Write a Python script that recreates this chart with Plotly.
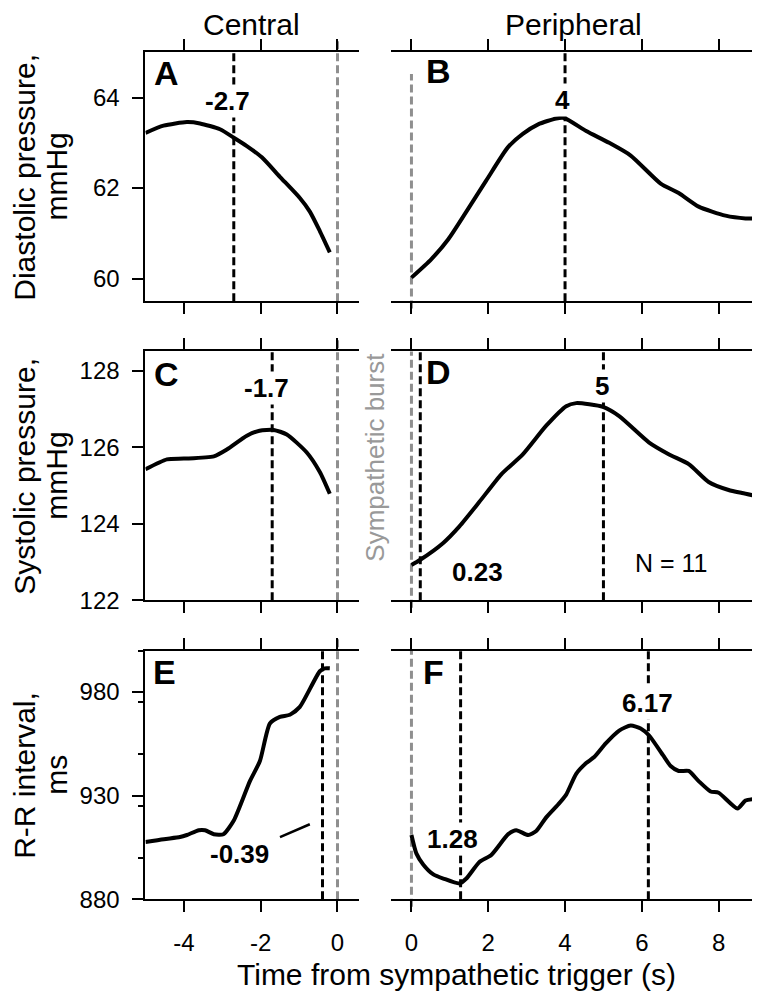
import plotly.graph_objects as go

W, H = 760, 1000
FONT = "Liberation Sans, Arial, sans-serif"

# ---------------- data ----------------
# Panel A: diastolic pressure, central (time s, mmHg)
a_t = [-5.0, -4.53, -3.92, -3.58, -3.06, -2.71, -2.36, -1.97, -1.50, -0.98, -0.72, -0.46, -0.20]
a_v = [63.22, 63.38, 63.46, 63.43, 63.30, 63.12, 62.93, 62.68, 62.25, 61.78, 61.48, 61.05, 60.58]

# Panel B: diastolic pressure, peripheral
b_t = [0.0, 0.52, 0.96, 1.43, 1.95, 2.51, 2.90, 3.30, 3.77, 3.98, 4.55, 5.15, 5.71, 6.49, 6.96, 7.48, 8.18, 8.70, 9.0]
b_v = [60.02, 60.43, 60.87, 61.48, 62.17, 62.90, 63.20, 63.41, 63.54, 63.55, 63.26, 63.00, 62.72, 62.10, 61.89, 61.59, 61.39, 61.33, 61.33]

# Panel C: systolic pressure, central
c_t = [-5.0, -4.44, -4.0, -3.22, -2.88, -2.36, -2.03, -1.66, -1.32, -0.80, -0.46, -0.20]
c_v = [125.42, 125.68, 125.70, 125.76, 125.94, 126.30, 126.43, 126.45, 126.33, 125.86, 125.35, 124.78]

# Panel D: systolic pressure, peripheral
d_t = [0.0, 0.22, 0.82, 1.25, 1.77, 2.34, 2.90, 3.51, 4.03, 4.29, 4.63, 4.99, 5.41, 6.19, 6.71, 7.23, 7.74, 8.26, 8.61, 9.0]
d_v = [122.92, 123.05, 123.49, 123.93, 124.57, 125.29, 125.81, 126.56, 127.07, 127.15, 127.12, 127.05, 126.81, 126.12, 125.81, 125.55, 125.09, 124.88, 124.80, 124.72]

# Panel E: R-R interval, central
e_t = [-5.0, -4.52, -4.10, -3.92, -3.61, -3.45, -3.22, -2.97, -2.70, -2.28, -2.02, -1.76, -1.50, -1.24, -0.98, -0.46, -0.33, -0.20]
e_v = [907.6, 909.0, 910.0, 911.0, 913.3, 913.3, 911.4, 911.4, 918.0, 937.0, 946.7, 964.8, 968.0, 969.0, 972.8, 990.0, 991.4, 991.4]

# Panel F: R-R interval, peripheral
f_t = [0.0, 0.13, 0.31, 0.57, 0.83, 1.25, 1.43, 1.77, 2.08, 2.52, 2.73, 3.04, 3.25, 3.51, 3.82, 4.03, 4.29, 4.55,
       4.76, 5.06, 5.41, 5.71, 5.97, 6.19, 6.55, 6.75, 6.96, 7.22, 7.48, 7.79, 8.00, 8.49, 8.70, 9.0]
f_v = [911.0, 902.0, 896.7, 892.0, 890.0, 887.6, 890.0, 898.0, 901.4, 911.4, 913.3, 911.0, 912.9, 919.5, 925.7, 930.5,
       940.5, 945.7, 948.6, 955.2, 961.4, 963.8, 962.4, 959.0, 949.5, 944.3, 941.9, 941.9, 937.0, 932.0, 931.4, 923.8,
       927.6, 928.6]

# Event times (dashed markers), per panel
burst_time = 0
peak_times = {"A": [-2.7], "B": [4], "C": [-1.7], "D": [0.23, 5], "E": [-0.39], "F": [1.28, 6.17]}

col_titles = ["Central", "Peripheral"]
row_titles = [["Diastolic pressure,", "mmHg"], ["Systolic pressure,", "mmHg"], ["R-R interval,", "ms"]]
x_title = "Time from sympathetic trigger (s)"
left_ticks = [-4, -2, 0]
left_ticktext = ["-4", "-2", "0"]
right_ticks = [0, 2, 4, 6, 8]
right_ticktext = ["0", "2", "4", "6", "8"]
row_yticks = [[60, 62, 64], [122, 124, 126, 128], [880, 930, 980]]
row_ranges = [[59.5, 65.0], [122.0, 128.5], [880, 1000]]

# ---------------- layout geometry ----------------
def px(x):
    return x / W

def py(y):
    return 1 - y / H

left_dom = [px(138), px(352)]
right_dom = [px(385), px(752)]
row_doms = [[py(297), py(45)], [py(600), py(348)], [py(903), py(651)]]
row_mid = [171, 474, 777]
left_range = [-5, 0.55]
right_range = [-0.52, 9.0]

series = [(a_t, a_v), (b_t, b_v), (c_t, c_v), (d_t, d_v), (e_t, e_v), (f_t, f_v)]
letters = ["A", "B", "C", "D", "E", "F"]

fig = go.Figure()
layout = dict(
    width=W, height=H, margin=dict(l=0, r=0, t=0, b=0),
    paper_bgcolor="white", plot_bgcolor="white", showlegend=False,
    font=dict(family=FONT, color="black"),
)
shapes = []
annotations = []

for i, (t, v) in enumerate(series):
    row, col = divmod(i, 2)
    k = i + 1
    xa = "xaxis" if k == 1 else f"xaxis{k}"
    ya = "yaxis" if k == 1 else f"yaxis{k}"
    xr = "x" if k == 1 else f"x{k}"
    yr = "y" if k == 1 else f"y{k}"
    fig.add_trace(go.Scatter(x=t, y=v, mode="lines", xaxis=xr, yaxis=yr,
                             line=dict(color="black", width=4, shape="spline", smoothing=0.6)))
    layout[xa] = dict(
        domain=left_dom if col == 0 else right_dom,
        range=left_range if col == 0 else right_range,
        anchor=yr, tickmode="array",
        tickvals=left_ticks if col == 0 else right_ticks,
        ticktext=left_ticktext if col == 0 else right_ticktext,
        showline=True, linecolor="black", linewidth=2, mirror="allticks",
        ticks="outside", ticklen=11, tickwidth=1.5, tickcolor="black",
        showgrid=False, zeroline=False, showticklabels=(row == 2),
        tickfont=dict(size=24, family=FONT), ticklabelstandoff=10,
    )
    yax = dict(
        domain=row_doms[row], range=row_ranges[row], anchor=xr,
        showline=True, linecolor="black", linewidth=2, mirror=False,
        ticks="outside", ticklen=11, tickwidth=1.5, tickcolor="black",
        showgrid=False, zeroline=False,
        tickfont=dict(size=24, family=FONT),
        side="left" if col == 0 else "right",
        showticklabels=(col == 0), ticklabelstandoff=8,
    )
    if row == 2:
        yax.update(tickmode="linear", tick0=880, dtick=50)
        if col == 0:
            yax["minor"] = dict(dtick=25, ticks="outside", ticklen=5, tickwidth=1.5, tickcolor="black")
    else:
        yax.update(tickmode="array", tickvals=row_yticks[row])
    layout[ya] = yax

    # gray burst line at time 0
    y1 = 1.045 if col == 0 else (0.913 if row == 0 else 1.0)
    y0 = 0 if col == 0 else -0.03
    shapes.append(dict(type="line", xref=xr, yref=f"{yr} domain", x0=burst_time, x1=burst_time,
                       y0=y0, y1=y1, line=dict(color="#8f8f8f", width=3, dash="8px,4px"), layer="below"))
    for pt in peak_times[letters[i]]:
        shapes.append(dict(type="line", xref=xr, yref=f"{yr} domain", x0=pt, x1=pt, y0=0, y1=1,
                           line=dict(color="black", width=3, dash="8px,4px"), layer="below"))

layout["shapes"] = shapes

def ann(text, x, y, size, bold=False, bg=None, color="black", angle=0, **kw):
    d = dict(text=f"<b>{text}</b>" if bold else text, x=px(x), y=py(y), xref="paper", yref="paper",
             xanchor="center", yanchor="middle", showarrow=False,
             font=dict(size=size, family=FONT, color=color), textangle=angle)
    if bg:
        d.update(bgcolor=bg, borderpad=1)
    d.update(kw)
    annotations.append(d)

# column titles
ann(col_titles[0], 244, 17, 30)
ann(col_titles[1], 568, 17, 30)
# row titles (two lines each)
for r in range(3):
    ann(row_titles[r][0], 17, row_mid[r], 30, angle=-90)
    ann(row_titles[r][1], 49, row_mid[r], 30, angle=-90)
# x title
ann(x_title, 450, 979, 30)
# panel letters
ann("A", 159, 66, 34, bold=True)
ann("B", 432, 64, 34, bold=True)
ann("C", 159, 371, 34, bold=True)
ann("D", 432, 369, 34, bold=True)
ann("E", 157, 673, 34, bold=True)
ann("F", 427, 673, 34, bold=True)
# peak values
ann("-2.7", 220, 94, 26, bold=True, bg="white")
ann("4", 557, 93, 26, bold=True, bg="white")
ann("-1.7", 260, 385, 26, bold=True, bg="white")
ann("5", 596, 383, 26, bold=True, bg="white")
ann("0.23", 471, 571, 26, bold=True)
ann("N = 11", 666, 562, 25)
ann("6.17", 642, 704, 26, bold=True, bg="white")
ann("1.28", 446, 842, 26, bold=True, bg="white")
# -0.39 with pointer line
annotations.append(dict(text="<b>-0.39</b>", x=px(303), y=py(827), xref="paper", yref="paper",
                        showarrow=True, arrowhead=0, arrowwidth=2.5, arrowcolor="black",
                        ax=-70, ay=30, startstandoff=10,
                        font=dict(size=26, family=FONT, color="black")))
# sympathetic burst label
ann("Sympathetic burst", 369, 455, 26, color="#999999", angle=-90)

layout["annotations"] = annotations
fig.update_layout(**layout)
fig.write_html("out.html")
